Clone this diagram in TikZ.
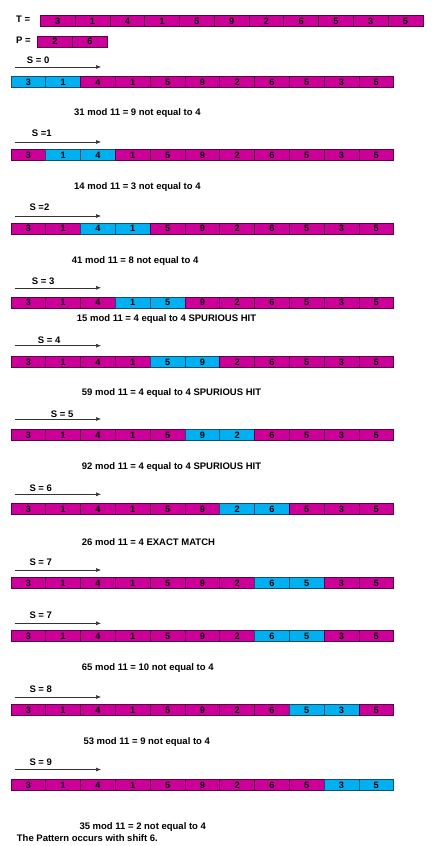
\documentclass[tikz,border=0pt]{standalone}
\usepackage{fontspec}
\setmainfont{Liberation Sans}
\usetikzlibrary{arrows.meta}
\definecolor{mag}{RGB}{204,0,153}
\definecolor{cyn}{RGB}{0,176,240}
\definecolor{magline}{RGB}{90,0,70}
\definecolor{cynline}{RGB}{20,80,110}
\tikzset{
 cell/.style={rectangle, minimum width=34.8pt, minimum height=11pt, inner sep=0pt, text height=6.6pt, text depth=0pt, anchor=north west, line width=0.7pt, font=\fontsize{9.2}{10}\selectfont\bfseries},
 pcell/.style={cell, fill=mag, draw=magline},
 hcell/.style={cell, fill=cyn, draw=cynline},
 lbl/.style={anchor=west, inner sep=0pt, font=\fontsize{9.5}{11}\selectfont\bfseries},
 shiftarrow/.style={line width=0.6pt, draw=black!80, -{Latex[length=5pt,width=4pt]}},
}
\newcommand\cellrow[4]{% name, x, y, highlight start
 \foreach \v [count=\i from 0] in {3,1,4,1,5,9,2,6,5,3,5}{
   \pgfmathtruncatemacro\hl{((\i==#4)||(\i==#4+1))?1:0}
   \ifnum\hl=1
     \node[hcell] (#1c\i) at ({#2+\i*34.78},#3) {\v};
   \else
     \node[pcell] (#1c\i) at ({#2+\i*34.78},#3) {\v};
   \fi
 }}
\begin{document}
\begin{tikzpicture}[x=1pt,y=-1pt]
\useasboundingbox (0,0) rectangle (436,846);
% T and P
\node[lbl] (tlbl) at (16,19.3) {T =};
\cellrow{T}{40}{15}{-5}
\node[lbl] (plbl) at (16,40.7) {P =};
\node[pcell] (P0) at (37.3,35.7) {2};
\node[pcell] (P1) at (72.3,35.7) {6};
% shift labels and arrows
\foreach \n/\lx/\ly/\ay/\t in {0/26.7/60.7/67/{S = 0}, 1/31.7/133.3/142/{S =1}, 2/29.3/207.3/216/{S =2}, 3/31.7/281/287.8/{S = 3}, 4/37.7/340.7/345.7/{S = 4}, 5/50.7/414.7/419/{S = 5}, 6/29.3/488.7/494.3/{S = 6}, 7/29.3/562/570/{S = 7}, 7b/29.3/615/623.3/{S = 7}, 8/29.3/689.3/697/{S = 8}, 9/29.3/762.3/769.5/{S = 9}}{
  \node[lbl] (s\n) at (\lx,\ly) {\t};
  \coordinate (as\n) at (15,\ay);
  \coordinate (ae\n) at (101,\ay);
  \draw[shiftarrow] (as\n) -- (ae\n);
}
% rows
\cellrow{R0}{10.7}{76}{0}
\cellrow{R1}{10.7}{149.3}{1}
\cellrow{R2}{10.7}{222.7}{2}
\cellrow{R3}{10.7}{296.7}{3}
\cellrow{R4}{10.7}{356}{4}
\cellrow{R5}{10.7}{429.3}{5}
\cellrow{R6}{10.7}{503.3}{6}
\cellrow{R7}{10.7}{577.3}{7}
\cellrow{R7b}{10.7}{630}{7}
\cellrow{R8}{10.7}{704.3}{8}
\cellrow{R9}{10.7}{779}{9}
% results
\node[lbl] (m1) at (74,113.3) {31 mod 11 = 9 not equal to 4};
\node[lbl] (m2) at (74,187.3) {14 mod 11 = 3 not equal to 4};
\node[lbl] (m3) at (71.7,261) {41 mod 11 = 8 not equal to 4};
\node[lbl] (m4) at (76.7,319.3) {15 mod 11 = 4 equal to 4 SPURIOUS HIT};
\node[lbl] (m5) at (81.7,393.3) {59 mod 11 = 4 equal to 4 SPURIOUS HIT};
\node[lbl] (m6) at (81.7,467.3) {92 mod 11 = 4 equal to 4 SPURIOUS HIT};
\node[lbl] (m7) at (81.7,541.7) {26 mod 11 = 4 EXACT MATCH};
\node[lbl] (m8) at (81.7,667.7) {65 mod 11 = 10 not equal to 4};
\node[lbl] (m9) at (83.3,741.7) {53 mod 11 = 9 not equal to 4};
\node[lbl] (m10) at (79.3,826.7) {35 mod 11 = 2 not equal to 4};
\node[lbl] (fin) at (16.7,837.7) {The Pattern occurs with shift 6.};
\end{tikzpicture}
\end{document}
